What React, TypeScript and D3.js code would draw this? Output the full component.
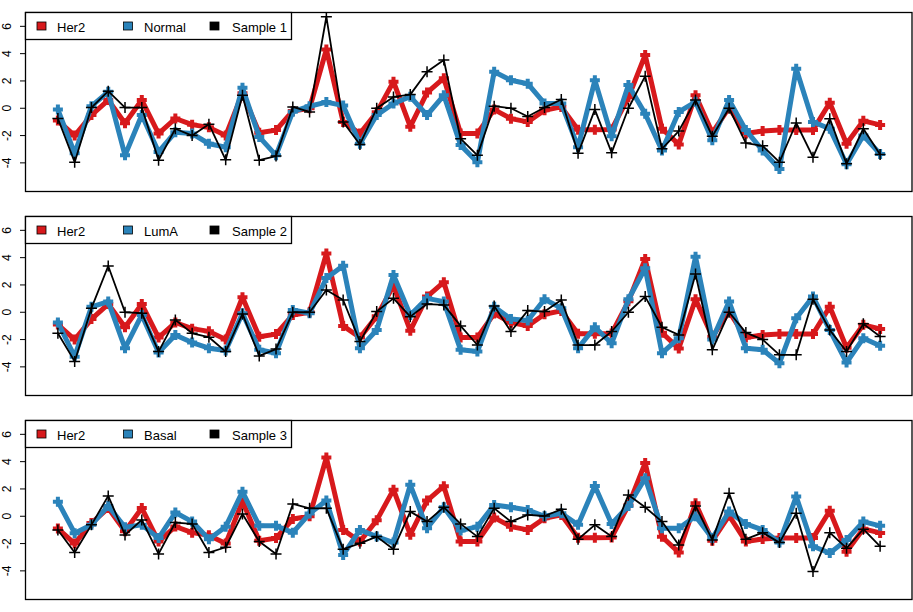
import React from "react";
import * as d3 from "d3";

const her2 = [-0.9, -2.0, -0.5, 0.6, -1.1, 0.6, -1.85, -0.75, -1.2, -1.4, -2.0, 1.1, -1.8, -1.6, -0.2, 0.0, 4.3, -1.0, -1.85, -0.3, 1.95, -1.35, 1.15, 2.2, -1.85, -1.85, -0.1, -0.76, -1.0, -0.15, 0.1, -1.57, -1.57, -1.55, 0.8, 3.9, -1.5, -2.65, 0.95, -1.8, 0.05, -1.85, -1.67, -1.6, -1.6, -1.6, 0.4, -2.6, -0.92, -1.22];

const normal = [-0.1, -3.3, 0.15, 1.2, -3.45, -0.5, -3.2, -1.75, -1.85, -2.6, -2.85, 1.5, -2.1, -3.45, -0.25, 0.15, 0.45, 0.2, -2.6, -0.5, 0.35, 0.85, -0.5, 0.95, -2.7, -3.95, 2.67, 2.05, 1.8, 0.35, 0.35, -2.85, 2.05, -2.05, 1.7, -0.4, -3.1, -0.27, 0.47, -2.35, 0.6, -1.6, -3.1, -4.45, 2.9, -1.0, -1.5, -4.1, -2.0, -3.35];
const sample1 = [-0.75, -3.95, 0.05, 1.25, 0.05, 0.05, -3.8, -1.5, -2.0, -1.17, -3.78, 0.95, -3.8, -3.5, 0.1, -0.27, 6.7, -1.0, -2.65, 0.0, 0.83, 1.0, 2.67, 3.53, -2.23, -3.45, 0.15, 0.0, -0.6, 0.05, 0.64, -3.3, -0.1, -3.25, 0.0, 2.35, -2.97, -1.67, 0.6, -2.05, 0.0, -2.55, -2.75, -3.95, -1.08, -3.58, -0.76, -4.07, -1.5, -3.38];

const lumA = [-0.75, -3.25, 0.4, 0.78, -2.63, -0.2, -2.95, -1.66, -2.22, -2.63, -2.8, -0.07, -2.75, -3.0, 0.17, -0.07, 2.5, 3.4, -2.63, -1.3, 2.73, -0.2, 1.02, 0.78, -2.75, -2.88, 0.4, -0.5, -0.6, 0.95, 0.3, -2.63, -1.1, -2.27, 0.95, 3.22, -3.0, -1.9, 4.07, -2.0, 0.78, -2.63, -2.75, -3.73, -0.44, 1.15, -1.3, -3.68, -1.9, -2.46];
const sample2 = [-1.54, -3.6, 0.3, 3.39, 0.0, -0.07, -2.88, -0.56, -1.54, -1.83, -2.88, -0.12, -3.2, -2.7, 0.0, 0.0, 1.63, 0.9, -2.15, 0.05, 1.02, -0.32, 0.6, 0.54, -1.0, -2.4, 0.46, -1.41, 0.12, 0.05, 0.9, -2.4, -2.4, -1.41, 0.0, 1.15, -1.1, -1.66, 2.8, -2.75, 0.0, -1.49, -2.0, -3.12, -3.12, 0.95, -1.3, -2.88, -0.85, -1.78];

const basal = [1.07, -1.24, -0.63, 0.76, -0.8, -0.63, -1.6, 0.27, -0.39, -1.68, -0.76, 1.8, -0.7, -0.7, -1.2, 0.2, 1.15, -2.83, -1.0, -1.49, -1.93, 2.3, -0.88, 0.66, -1.05, -0.76, 0.83, 0.66, 0.46, 0.0, 0.22, -0.63, 2.22, -0.56, 0.76, 2.78, -0.88, -0.88, 0.0, -1.6, 0.34, -0.56, -1.0, -1.93, 1.44, -2.2, -2.7, -1.73, -0.39, -0.7];
const sample3 = [-1.0, -2.66, -0.63, 1.49, -1.37, -0.27, -2.76, -0.46, -0.56, -2.66, -2.27, 0.17, -1.85, -2.76, 0.9, 0.58, 0.58, -2.41, -1.98, -1.49, -2.41, 0.34, -0.39, 0.66, -0.56, -1.49, 0.58, -0.39, 0.1, 0.02, 0.51, -1.68, -0.63, -1.49, 1.56, 0.66, -0.39, -2.1, 0.76, -1.73, 1.68, -1.68, -1.2, -1.93, 0.22, -4.05, -1.2, -2.34, -0.95, -2.2];

const yTicks = [-4, -2, 0, 2, 4, 6];
const subtypeNames = ["Normal", "LumA", "Basal"];
const subtypeValues = [normal, lumA, basal];
const sampleNames = ["Sample 1", "Sample 2", "Sample 3"];
const sampleValues = [sample1, sample2, sample3];

const RED = "#D7191C";
const BLUE = "#2B83BA";
const FONT = "'Liberation Sans', Arial, Helvetica, sans-serif";

const W = 913;
const H = 612;
const panelTops = [12, 216, 420];
const panelH = 179;
const left = 25;
const right = 913;

const n = her2.length;
const pad = (n - 1) * 0.04;
const x = d3.scaleLinear().domain([1 - pad, n + pad]).range([left, right]);

function Series({ values, y, color, lw, arm, mw }: any) {
  const line = d3
    .line<number>()
    .x((_, i) => x(i + 1))
    .y((v) => y(v));
  return (
    <g>
      <path d={line(values) || ""} fill="none" stroke={color} strokeWidth={lw} strokeLinejoin="round" strokeLinecap="round" />
      {values.map((v: number, i: number) => {
        const cx = x(i + 1);
        const cy = y(v);
        return (
          <path
            key={i}
            d={`M${cx - arm},${cy}H${cx + arm}M${cx},${cy - arm}V${cy + arm}`}
            stroke={color}
            strokeWidth={mw}
            fill="none"
          />
        );
      })}
    </g>
  );
}

function Panel({ top, subName, subVals, sName, sVals }: any) {
  const y = d3.scaleLinear().domain([-6.06, 7.05]).range([top + panelH, top]);
  const legendItems = [
    { label: "Her2", color: RED, sx: 37, tx: 57 },
    { label: subName, color: BLUE, sx: 123.5, tx: 144 },
    { label: sName, color: "#000", sx: 210, tx: 232 },
  ];
  return (
    <g>
      <defs>
        <clipPath id={`clip${top}`}>
          <rect x={left} y={top} width={right - left} height={panelH} />
        </clipPath>
      </defs>
      <g clipPath={`url(#clip${top})`}>
        <Series values={her2} y={y} color={RED} lw={5} arm={5} mw={4} />
        <Series values={subVals} y={y} color={BLUE} lw={5} arm={5} mw={4} />
        <Series values={sVals} y={y} color="#000" lw={1.8} arm={5.5} mw={1.5} />
      </g>
      <rect x={left + 0.5} y={top + 0.5} width={right - left - 1.5} height={panelH} fill="none" stroke="#000" strokeWidth={1.3} />
      {yTicks.map((t) => (
        <g key={t}>
          <line x1={20} x2={left} y1={y(t)} y2={y(t)} stroke="#000" strokeWidth={1} />
          <text
            transform={`translate(10.5,${y(t)}) rotate(-90)`}
            textAnchor="middle"
            fontFamily={FONT}
            fontSize={12}
            fill="#000"
          >
            {t}
          </text>
        </g>
      ))}
      <rect x={left + 0.5} y={top + 0.5} width={266} height={27} fill="#fff" stroke="#000" strokeWidth={1.3} />
      {legendItems.map((d) => (
        <g key={d.label}>
          <rect x={d.sx} y={top + 10} width={9} height={8} fill={d.color} stroke="#000" strokeWidth={0.8} />
          <text x={d.tx} y={top + 20} fontFamily={FONT} fontSize={13} fill="#000">
            {d.label}
          </text>
        </g>
      ))}
    </g>
  );
}

export default function App() {
  return (
    <svg width={W} height={H} style={{ position: "absolute", left: 0, top: 0, background: "#fff" }}>
      <rect x={0} y={0} width={W} height={H} fill="#fff" />
      {panelTops.map((t, k) => (
        <Panel key={k} top={t} subName={subtypeNames[k]} subVals={subtypeValues[k]} sName={sampleNames[k]} sVals={sampleValues[k]} />
      ))}
    </svg>
  );
}
